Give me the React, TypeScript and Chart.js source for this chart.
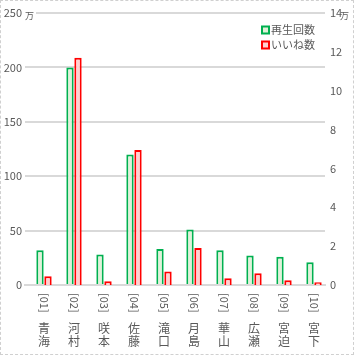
import React, { useEffect, useRef } from "react";
import { Chart, registerables } from "chart.js";

Chart.register(...registerables);

const ids = ["01", "02", "03", "04", "05", "06", "07", "08", "09", "10"];
const names = ["青海", "河村", "咲本", "佐藤", "滝口", "月島", "華山", "広瀬", "宮迫", "宮下"];
const plays = [32, 200, 28, 120, 33, 51, 32, 27, 26, 21]; // 万 (left axis)
const likes = [0.45, 11.7, 0.19, 6.95, 0.7, 1.9, 0.35, 0.6, 0.24, 0.14]; // 万 (right axis)
const leftMax = 250;
const leftStep = 50;
const rightMax = 14;
const rightStep = 2;
const unitLabel = "万";
const seriesNames = ["再生回数", "いいね数"];

const FONT = "'Noto Sans CJK JP', 'Noto Sans', sans-serif";
const TEXT = "#595959";

const overlayPlugin = {
  id: "overlay",
  afterDraw(chart: any) {
    const ctx = chart.ctx;
    const yL = chart.scales.yL;
    const yR = chart.scales.yR;
    const area = chart.chartArea;
    ctx.save();
    // unit labels
    ctx.font = `9px ${FONT}`;
    ctx.fillStyle = "#ffffff";
    const topY = yL.getPixelForValue(leftMax);
    ctx.fillRect(area.left, topY - 3, 11, 6);
    ctx.fillStyle = TEXT;
    ctx.textAlign = "left";
    ctx.textBaseline = "middle";
    ctx.fillText(unitLabel, area.left, topY + 3);
    ctx.fillText(unitLabel, yR.left + 15, yR.getPixelForValue(rightMax) + 3);

    // x labels (vertical)
    const m1 = chart.getDatasetMeta(1);
    const m2 = chart.getDatasetMeta(2);
    for (let i = 0; i < ids.length; i++) {
      const x = (m1.data[i].x + m2.data[i].x) / 2;
      ctx.save();
      ctx.translate(x, area.bottom + 8);
      ctx.rotate(Math.PI / 2);
      ctx.font = `11px ${FONT}`;
      ctx.textAlign = "left";
      ctx.textBaseline = "middle";
      ctx.fillStyle = TEXT;
      ctx.fillText(`[${ids[i]}]`, 0, 0);
      ctx.restore();
      ctx.font = `12px ${FONT}`;
      ctx.textAlign = "center";
      ctx.textBaseline = "middle";
      ctx.fillStyle = TEXT;
      const chars = Array.from(names[i]);
      chars.forEach((c, k) => {
        ctx.fillText(c, x, area.bottom + 43.5 + k * 12.5);
      });
    }

    // legend
    const ds = chart.data.datasets;
    [1, 2].forEach((di, k) => {
      const d = ds[di];
      const bx = area.right - 63;
      const by = area.top + 13.5 + k * 15;
      ctx.fillStyle = d.backgroundColor;
      ctx.fillRect(bx, by, 7, 7);
      ctx.strokeStyle = d.borderColor;
      ctx.lineWidth = 2;
      ctx.strokeRect(bx, by, 7, 7);
      ctx.font = `11px ${FONT}`;
      ctx.fillStyle = TEXT;
      ctx.textAlign = "left";
      ctx.textBaseline = "middle";
      ctx.fillText(d.label, bx + 9, by + 3.5);
    });
    ctx.restore();
  },
};

export default function App() {
  const ref = useRef<HTMLCanvasElement | null>(null);
  useEffect(() => {
    document.body.style.margin = "0";
    if (!ref.current) return;
    const chart = new Chart(ref.current, {
      type: "bar",
      data: {
        labels: ids.map((id, i) => `[${id}]${names[i]}`),
        datasets: [
          {
            label: "",
            data: ids.map(() => null),
            yAxisID: "yL",
            backgroundColor: "rgba(0,0,0,0)",
          },
          {
            label: seriesNames[0],
            data: plays,
            yAxisID: "yL",
            backgroundColor: "#E2F0D9",
            borderColor: "#00B050",
            borderWidth: 2,
          },
          {
            label: seriesNames[1],
            data: likes,
            yAxisID: "yR",
            backgroundColor: "#FFD1D1",
            borderColor: "#FF0000",
            borderWidth: 2,
          },
        ] as any,
      },
      options: {
        animation: false,
        responsive: true,
        maintainAspectRatio: false,
        layout: { padding: { top: 12, left: 0, right: 0, bottom: 0 } },
        datasets: { bar: { categoryPercentage: 0.8, barPercentage: 0.92 } } as any,
        plugins: {
          legend: { display: false },
          tooltip: { enabled: false },
        },
        scales: {
          x: {
            grid: { display: false },
            border: { display: true, color: "#d9d9d9", width: 2 },
            ticks: { display: false },
            afterFit: (s: any) => {
              s.height = 69;
            },
          },
          yL: {
            position: "left",
            min: 0,
            max: leftMax,
            ticks: {
              stepSize: leftStep,
              color: TEXT,
              font: { size: 11, family: FONT },
              padding: 3,
            },
            grid: { color: "#d9d9d9", lineWidth: 2, drawTicks: false },
            border: { display: false },
            afterFit: (s: any) => {
              s.width = 24;
            },
          },
          yR: {
            position: "right",
            min: 0,
            max: rightMax,
            ticks: {
              stepSize: rightStep,
              color: TEXT,
              font: { size: 11, family: FONT },
              padding: 5,
            },
            grid: { display: false, drawTicks: false },
            border: { display: false },
            afterFit: (s: any) => {
              s.width = 28;
            },
          },
        },
      },
      plugins: [overlayPlugin],
    });
    return () => chart.destroy();
  }, []);
  return (
    <div
      style={{
        width: 354,
        height: 355,
        boxSizing: "border-box",
        border: "1px dashed #d0d0d0",
        background: "#fff",
      }}
    >
      <div style={{ position: "relative", width: 352, height: 353 }}>
        <canvas ref={ref} />
      </div>
    </div>
  );
}
